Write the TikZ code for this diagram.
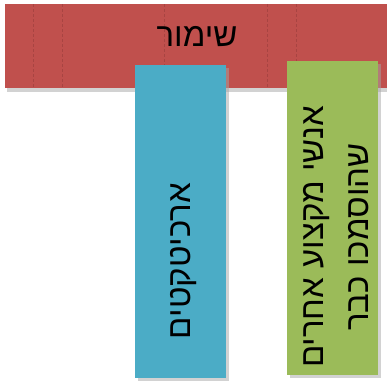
\documentclass[tikz,border=0pt]{standalone}
\usepackage{fontspec}
\TeXXeTstate=1
\newfontfamily\heb[Script=Hebrew]{Liberation Sans}
\definecolor{cred}{HTML}{C0504D}
\definecolor{cblue}{HTML}{4BACC6}
\definecolor{cgreen}{HTML}{9BBB59}
\definecolor{cdash}{HTML}{A84442}
\begin{document}
\begin{tikzpicture}[x=1pt,y=-1pt,
  shadowbox/.style={fill=black!35,opacity=0.5},
  sep/.style={draw=cdash,line width=0.5pt,dash pattern=on 3pt off 2pt},
  lbl/.style={font=\heb\fontsize{33}{45}\selectfont,text=black,inner sep=0pt,align=center}]
\useasboundingbox (0,0) rectangle (387,383);
% red band
\fill[shadowbox] (7,88) rectangle (387,92);
\node[fill=cred,minimum width=382pt,minimum height=84pt,anchor=north west,inner sep=0pt] (band) at (5,4) {};
\foreach \xx in {33,62,164,267,296} \draw[sep] (\xx,4) -- (\xx,88);
\node[lbl] (t1) at (197,37) {\beginR שימור\endR};
% blue
\fill[shadowbox] (138,68) rectangle (229,381);
\node[fill=cblue,minimum width=91pt,minimum height=313pt,anchor=north west,inner sep=0pt] (blue) at (135,65) {};
\node[lbl,rotate=90] (t2) at (184,261) {\beginR ארכיטקטים\endR};
% green
\fill[shadowbox] (290,64) rectangle (381,378);
\node[fill=cgreen,minimum width=91pt,minimum height=314pt,anchor=north west,inner sep=0pt] (green) at (287,61) {};
\node[lbl,rotate=90] (t3) at (336,237) {\beginR אנשי מקצוע אחרים\endR\\\beginR שהוסמכו כבר\endR};
\end{tikzpicture}
\end{document}
